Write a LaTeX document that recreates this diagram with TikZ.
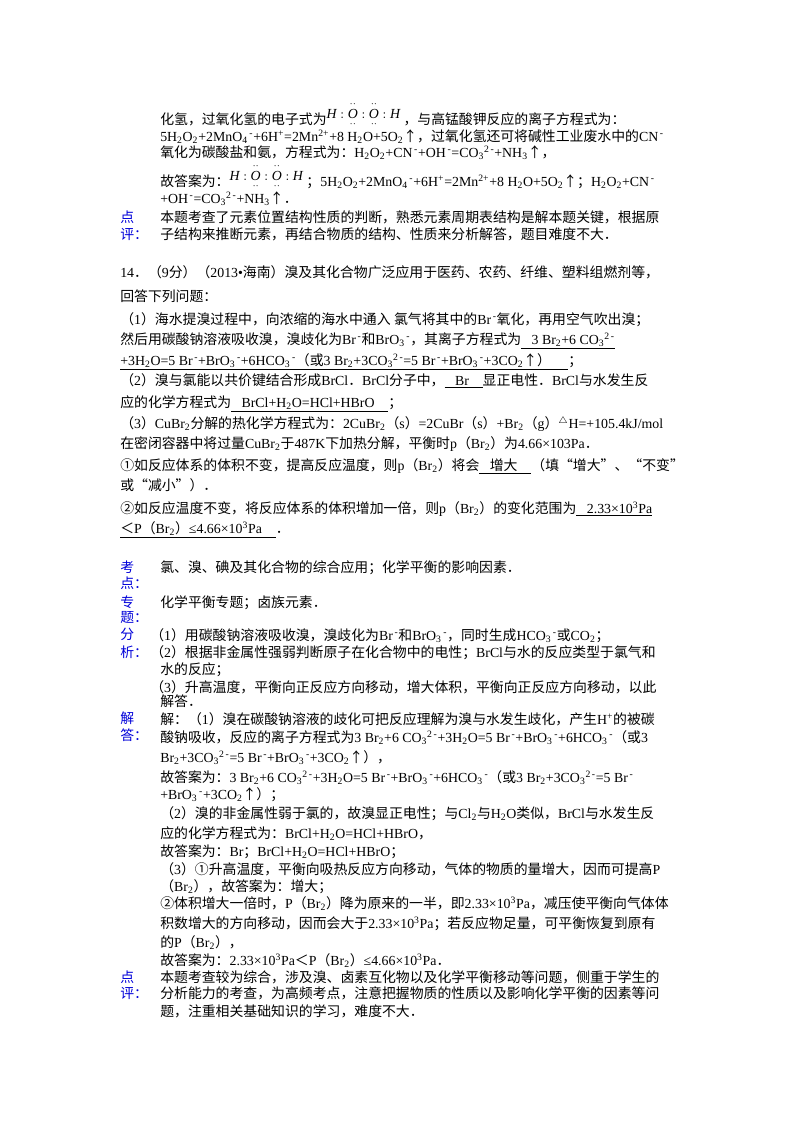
\documentclass[tikz,border=0pt]{standalone}
\usepackage{amsmath}
\usepackage{fontspec}
\setmainfont{Liberation Serif}
\newfontfamily\cjkf{Noto Sans CJK SC}
\newfontfamily\latf{Liberation Serif}
\XeTeXinterchartokenstate=1
\newXeTeXintercharclass\cjkclass
\count255="3000
\loop\ifnum\count255<"A000 \XeTeXcharclass\count255=\cjkclass \advance\count255 by 1 \repeat
\count255="FF00
\loop\ifnum\count255<"FFF0 \XeTeXcharclass\count255=\cjkclass \advance\count255 by 1 \repeat
\count255="2460
\loop\ifnum\count255<"2480 \XeTeXcharclass\count255=\cjkclass \advance\count255 by 1 \repeat
\XeTeXcharclass"2191=\cjkclass
\XeTeXcharclass"201C=\cjkclass
\XeTeXcharclass"201D=\cjkclass
\XeTeXinterchartoks 0 \cjkclass = {\cjkf}
\XeTeXinterchartoks 4095 \cjkclass = {\cjkf}
\XeTeXinterchartoks \cjkclass 0 = {\latf}
\XeTeXinterchartoks \cjkclass 4095 = {\latf}
\newcommand\dn[1]{\textsubscript{#1}}
\newcommand\up[1]{\textsuperscript{#1}}
\newcommand\eO{\ensuremath{\underset{\cdot\cdot}{\overset{\cdot\cdot}{\mathit{O}}}}}
\newcommand\elec{\raisebox{4pt}{$\mathit{H}:\eO:\eO:\mathit{H}$}}
\newcommand\ul[1]{\underline{#1}}
\begin{document}
\begin{tikzpicture}[x=0.75pt,y=-0.75pt,
 tx/.style={anchor=base west,inner sep=0pt,font=\fontsize{10.4}{12}\selectfont},
 lb/.style={tx,text=blue!85!black}]
\useasboundingbox (0,0) rectangle (800,1132);
\node[tx] (l1) at (160,124) {化氢，过氧化氢的电子式为\elec\ ，与高锰酸钾反应的离子方程式为：};
\node[tx] (l2) at (160,141) {5H\dn2O\dn2+2MnO\dn4\up{\,-}+6H\up{+}=2Mn\up{2+}+8 H\dn2O+5O\dn2↑，过氧化氢还可将碱性工业废水中的CN\up{\,-}};
\node[tx] (l3) at (160,157) {氧化为碳酸盐和氨，方程式为：H\dn2O\dn2+CN\up{\,-}+OH\up{\,-}=CO\dn3\up{2\,-}+NH\dn3↑，};
\node[tx] (l4) at (160,186) {故答案为：\elec\ ；5H\dn2O\dn2+2MnO\dn4\up{\,-}+6H\up{+}=2Mn\up{2+}+8 H\dn2O+5O\dn2↑；H\dn2O\dn2+CN\up{\,-}};
\node[tx] (l5) at (160,203) {+OH\up{\,-}=CO\dn3\up{2\,-}+NH\dn3↑．};
\node[lb] (p1) at (120,222) {点};
\node[lb] (p2) at (120,239) {评：};
\node[tx] (l6) at (160,222) {本题考查了元素位置结构性质的判断，熟悉元素周期表结构是解本题关键，根据原};
\node[tx] (l7) at (160,239) {子结构来推断元素，再结合物质的结构、性质来分析解答，题目难度不大．};
\node[tx] (q1) at (120,277) {14．（9分）（2013•海南）溴及其化合物广泛应用于医药、农药、纤维、塑料组燃剂等，};
\node[tx] (q2) at (120,301) {回答下列问题：};
\node[tx] (q3) at (120,324) {（1）海水提溴过程中，向浓缩的海水中通入 氯气将其中的Br\up{\,-}氧化，再用空气吹出溴；};
\node[tx] (q4) at (120,344) {然后用碳酸钠溶液吸收溴，溴歧化为Br\up{\,-}和BrO\dn3\up{\,-}，其离子方程式为\ul{\ \ \ 3 Br\dn2+6 CO\dn3\up{2\,-}}};
\node[tx] (q5) at (120,365) {\ul{+3H\dn2O=5 Br\up{\,-}+BrO\dn3\up{\,-}+6HCO\dn3\up{\,-}（或3 Br\dn2+3CO\dn3\up{2\,-}=5 Br\up{\,-}+BrO\dn3\up{\,-}+3CO\dn2↑）\ \ \ \ \ }；};
\node[tx] (q6) at (120,385) {（2）溴与氯能以共价键结合形成BrCl．BrCl分子中，\ul{\ \ \ Br\ \ \ \ }显正电性．BrCl与水发生反};
\node[tx] (q7) at (120,407) {应的化学方程式为\ul{\ \ \ BrCl+H\dn2O=HCl+HBrO\ \ \ \ }；};
\node[tx] (q8) at (120,428) {（3）CuBr\dn2分解的热化学方程式为：2CuBr\dn2（s）=2CuBr（s）+Br\dn2（g）\up{\(\triangle\)}H=+105.4kJ/mol};
\node[tx] (q9) at (120,448) {在密闭容器中将过量CuBr\dn2于487K下加热分解，平衡时p（Br\dn2）为4.66×103Pa．};
\node[tx] (q10) at (120,470) {①如反应体系的体积不变，提高反应温度，则p（Br\dn2）将会\ul{\ \ \ 增大\ \ \ \ }（填“增大”、“不变”};
\node[tx] (q11) at (120,490) {或“减小”）．};
\node[tx] (q12) at (120,513) {②如反应温度不变，将反应体系的体积增加一倍，则p（Br\dn2）的变化范围为\ul{\ \ \ 2.33×10\up3Pa}};
\node[tx] (q13) at (120,533) {\ul{＜P（Br\dn2）≤4.66×10\up3Pa\ \ \ \ }．};
\node[lb] (k1) at (120,572) {考};
\node[lb] (k2) at (120,588) {点：};
\node[tx] (k3) at (160,572) {氯、溴、碘及其化合物的综合应用；化学平衡的影响因素．};
\node[lb] (z1) at (120,607) {专};
\node[lb] (z2) at (120,622) {题：};
\node[tx] (z3) at (160,607) {化学平衡专题；卤族元素．};
\node[lb] (f1) at (120,639) {分};
\node[lb] (f2) at (120,657) {析：};
\node[tx] (f3) at (150,640) {（1）用碳酸钠溶液吸收溴，溴歧化为Br\up{\,-}和BrO\dn3\up{\,-}，同时生成HCO\dn3\up{\,-}或CO\dn2；};
\node[tx] (f4) at (150,657) {（2）根据非金属性强弱判断原子在化合物中的电性；BrCl与水的反应类型于氯气和};
\node[tx] (f5) at (160,674) {水的反应；};
\node[tx] (f6) at (150,692) {（3）升高温度，平衡向正反应方向移动，增大体积，平衡向正反应方向移动，以此};
\node[tx] (f7) at (160,706) {解答．};
\node[lb] (j1) at (120,723) {解};
\node[lb] (j2) at (120,740) {答：};
\node[tx] (a1) at (160,724) {解：（1）溴在碳酸钠溶液的歧化可把反应理解为溴与水发生歧化，产生H\up{+}的被碳};
\node[tx] (a2) at (160,742) {酸钠吸收，反应的离子方程式为3 Br\dn2+6 CO\dn3\up{2\,-}+3H\dn2O=5 Br\up{\,-}+BrO\dn3\up{\,-}+6HCO\dn3\up{\,-}（或3};
\node[tx] (a3) at (160,762) {Br\dn2+3CO\dn3\up{2\,-}=5 Br\up{\,-}+BrO\dn3\up{\,-}+3CO\dn2↑），};
\node[tx] (a4) at (160,782) {故答案为：3 Br\dn2+6 CO\dn3\up{2\,-}+3H\dn2O=5 Br\up{\,-}+BrO\dn3\up{\,-}+6HCO\dn3\up{\,-}（或3 Br\dn2+3CO\dn3\up{2\,-}=5 Br\up{\,-}};
\node[tx] (a5) at (160,799) {+BrO\dn3\up{\,-}+3CO\dn2↑）；};
\node[tx] (a6) at (160,818) {（2）溴的非金属性弱于氯的，故溴显正电性；与Cl\dn2与H\dn2O类似，BrCl与水发生反};
\node[tx] (a7) at (160,838) {应的化学方程式为：BrCl+H\dn2O=HCl+HBrO，};
\node[tx] (a8) at (160,856) {故答案为：Br；BrCl+H\dn2O=HCl+HBrO；};
\node[tx] (a9) at (160,874) {（3）①升高温度，平衡向吸热反应方向移动，气体的物质的量增大，因而可提高P};
\node[tx] (a10) at (160,891) {（Br\dn2），故答案为：增大；};
\node[tx] (a11) at (160,908) {②体积增大一倍时，P（Br\dn2）降为原来的一半，即2.33×10\up3Pa，减压使平衡向气体体};
\node[tx] (a12) at (160,928) {积数增大的方向移动，因而会大于2.33×10\up3Pa；若反应物足量，可平衡恢复到原有};
\node[tx] (a13) at (160,947) {的P（Br\dn2），};
\node[tx] (a14) at (160,965) {故答案为：2.33×10\up3Pa＜P（Br\dn2）≤4.66×10\up3Pa．};
\node[lb] (d1) at (120,982) {点};
\node[lb] (d2) at (120,998) {评：};
\node[tx] (e1) at (160,982) {本题考查较为综合，涉及溴、卤素互化物以及化学平衡移动等问题，侧重于学生的};
\node[tx] (e2) at (160,998) {分析能力的考查，为高频考点，注意把握物质的性质以及影响化学平衡的因素等问};
\node[tx] (e3) at (160,1016) {题，注重相关基础知识的学习，难度不大．};
\end{tikzpicture}
\end{document}
